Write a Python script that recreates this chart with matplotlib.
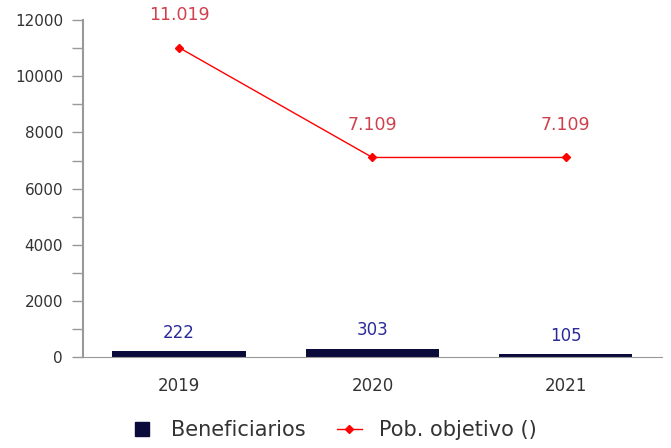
import matplotlib
matplotlib.use("Agg")
import matplotlib.pyplot as plt
from matplotlib.ticker import MultipleLocator
from matplotlib.lines import Line2D

years = ["2019", "2020", "2021"]
beneficiarios = [222, 303, 105]
pob_objetivo = [11019, 7109, 7109]
pob_labels = ["11.019", "7.109", "7.109"]

plt.rcParams['font.family'] = ['DejaVu Sans']

fig = plt.figure(figsize=(6.71, 4.48), dpi=100)
ax = fig.add_axes([0.123, 0.203, 0.864, 0.752])

x = range(len(years))
ax.bar(x, beneficiarios, width=0.69, color='#0b0b3b', zorder=2)
ax.plot(x, pob_objetivo, color='#ff0000', lw=1, marker='D', ms=4, zorder=3)

# etiquetas de valores
for i, v in enumerate(beneficiarios):
    ax.annotate(str(v), (i, v), xytext=(0, 13), textcoords='offset points',
                ha='center', va='center', color='#2a2a9a', fontsize=12)
for i, v in enumerate(pob_objetivo):
    ax.annotate(pob_labels[i], (i, v), xytext=(0, 23.5), textcoords='offset points',
                ha='center', va='center', color='#d0404c', fontsize=12.5)

ax.set_xlim(-0.5, 2.5)
ax.set_ylim(0, 12000)
ax.set_xticks(list(x))
ax.set_xticklabels(years, fontsize=12, color='#333333')
ax.yaxis.set_major_locator(MultipleLocator(2000))
ax.yaxis.set_minor_locator(MultipleLocator(1000))
ax.tick_params(axis='y', labelsize=11, colors='#333333', length=8, width=1,
               color='#999999', pad=6)
ax.tick_params(axis='y', which='minor', length=8, width=1, color='#999999')
ax.tick_params(axis='x', length=0, pad=14)

for s in ['top', 'right']:
    ax.spines[s].set_visible(False)
ax.spines['left'].set_color('#999999')
ax.spines['bottom'].set_color('#999999')
ax.spines['left'].set_linewidth(1.5)

handles = [
    Line2D([], [], ls='none', marker='s', ms=10, color='#0b0b3b'),
    Line2D([], [], color='#ff0000', lw=1, marker='D', ms=4.5),
]
fig.legend(handles, ['Beneficiarios', 'Pob. objetivo ()'], loc='center',
           bbox_to_anchor=(0.496, 0.04), ncol=2, frameon=False, fontsize=15,
           handlelength=1.2, handletextpad=0.8, columnspacing=1.5,
           labelcolor='#333333')

fig.savefig("out.png", dpi=100)
